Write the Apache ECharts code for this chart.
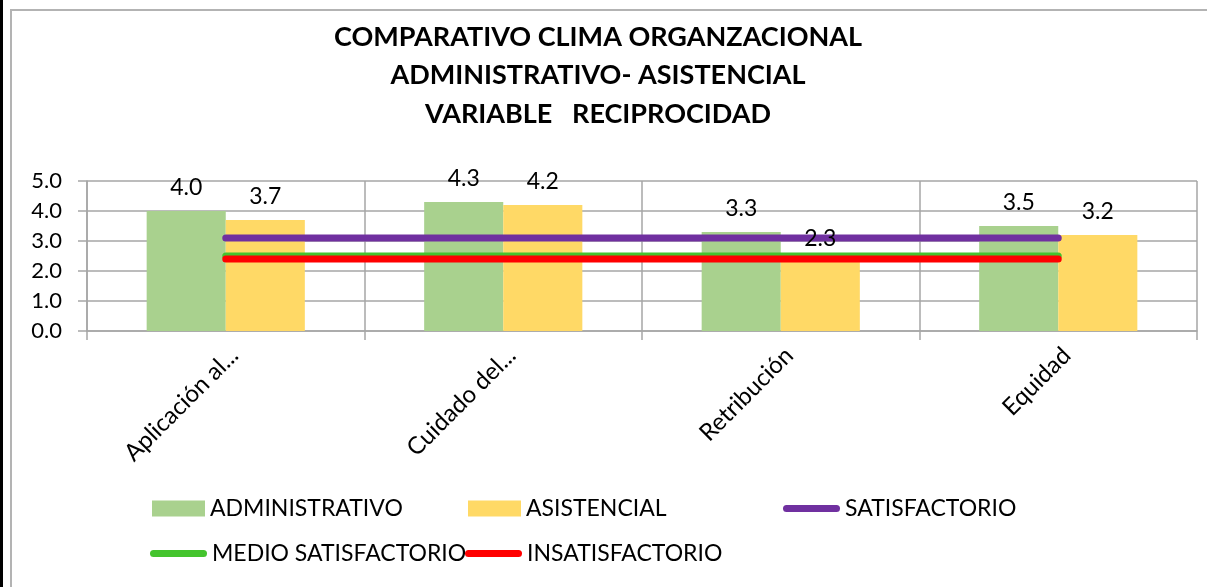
<!DOCTYPE html>
<html>
<head>
<meta charset="utf-8">
<script src="https://cdn.jsdelivr.net/npm/echarts@6/dist/echarts.min.js"></script>
<style>
  html, body { margin: 0; padding: 0; background: #fff; }
  #chart { width: 1207px; height: 587px; }
</style>
</head>
<body>
<div id="chart"></div>
<script>
// datos
const categorias = ['Aplicación al...', 'Cuidado del...', 'Retribución', 'Equidad'];
const administrativo = [4.0, 4.3, 3.3, 3.5];
const asistencial = [3.7, 4.2, 2.3, 3.2];
const satisfactorio = [3.1, 3.1, 3.1, 3.1];
const medioSatisfactorio = [2.5, 2.5, 2.5, 2.5];
const insatisfactorio = [2.4, 2.4, 2.4, 2.4];
const yMin = 0, yMax = 5, yPaso = 1;

const fuente = 'Lato';
const gris = '#a6a6a6';

const myChart = echarts.init(document.getElementById('chart'));

function leyenda(nombre, left, top, w, h, icon) {
  return {
    data: [nombre],
    left: left,
    top: top,
    padding: 0,
    itemWidth: w,
    itemHeight: h,
    icon: icon,
    selectedMode: false,
    itemStyle: { borderWidth: 0 },
    textStyle: { fontFamily: fuente, fontSize: 23, color: '#000' }
  };
}
const capsula = 'path://M3.5,0 L53.5,0 A3.5,3.5 0 0 1 53.5,7 L3.5,7 A3.5,3.5 0 0 1 3.5,0 Z';

const etiqueta = {
  show: true,
  position: 'top',
  distance: 12,
  fontFamily: fuente,
  fontSize: 23,
  color: '#000',
  formatter: p => p.value.toFixed(1)
};

myChart.setOption({
  animation: false,
  title: {
    text: 'COMPARATIVO CLIMA ORGANZACIONAL\nADMINISTRATIVO- ASISTENCIAL\nVARIABLE   RECIPROCIDAD',
    left: 593,
    top: 13,
    textAlign: 'center',
    textStyle: { fontFamily: fuente, fontSize: 27, fontWeight: 'bold', color: '#000', lineHeight: 38.5 }
  },
  graphic: [
    { type: 'rect', shape: { x: 11, y: 10, width: 1230, height: 620 }, style: { fill: null, stroke: '#b3b3b3', lineWidth: 2 }, silent: true },
    { type: 'line', shape: { x1: 1.5, y1: 0, x2: 1.5, y2: 587 }, style: { stroke: '#000', lineWidth: 3 }, silent: true }
  ],
  legend: [
    leyenda('ADMINISTRATIVO', 152, 497, 53, 16, 'rect'),
    leyenda('ASISTENCIAL', 468, 497, 53, 16, 'rect'),
    leyenda('SATISFACTORIO', 783, 497, 57, 7, capsula),
    leyenda('MEDIO SATISFACTORIO', 150, 542, 57, 7, capsula),
    leyenda('INSATISFACTORIO', 465, 542, 57, 7, capsula)
  ],
  grid: { left: 87, right: 10, top: 181, bottom: 256, containLabel: false },
  xAxis: [
    {
      type: 'category',
      data: categorias,
      axisLine: { show: true, lineStyle: { color: gris, width: 1.5 } },
      axisTick: { show: true, length: 9, lineStyle: { color: gris, width: 1.5 } },
      splitLine: { show: true, lineStyle: { color: gris, width: 1.5 } },
      axisLabel: { rotate: 45, margin: 12, verticalAlign: 'top', fontFamily: fuente, fontSize: 24, color: '#000', interval: 0 }
    },
    { type: 'category', data: categorias, show: false }
  ],
  yAxis: [
    {
      type: 'value',
      min: yMin,
      max: yMax,
      interval: yPaso,
      axisLine: { show: true, lineStyle: { color: gris, width: 1.5 } },
      axisTick: { show: true, length: 9, lineStyle: { color: gris, width: 1.5 } },
      splitLine: { show: true, lineStyle: { color: gris, width: 1.5 } },
      axisLabel: { margin: 25, fontFamily: fuente, fontSize: 22, color: '#000', formatter: v => v.toFixed(1) }
    },
    { type: 'value', min: yMin, max: yMax, interval: yPaso, show: false }
  ],
  series: [
    {
      name: 'ADMINISTRATIVO', type: 'bar', data: administrativo,
      barGap: '0%', barCategoryGap: '43%',
      itemStyle: { color: '#a9d18e' }
    },
    {
      name: 'ASISTENCIAL', type: 'bar', data: asistencial,
      barGap: '0%', barCategoryGap: '43%',
      itemStyle: { color: '#ffd966' }
    },
    {
      name: 'SATISFACTORIO', type: 'line', data: satisfactorio, symbol: 'none',
      itemStyle: { color: '#7030a0' },
      lineStyle: { color: '#7030a0', width: 7, cap: 'round' }
    },
    {
      name: 'MEDIO SATISFACTORIO', type: 'line', data: medioSatisfactorio, symbol: 'none',
      itemStyle: { color: '#44c42e' },
      lineStyle: { color: '#44c42e', width: 7, cap: 'round' }
    },
    {
      name: 'INSATISFACTORIO', type: 'line', data: insatisfactorio, symbol: 'none',
      itemStyle: { color: '#ff0000' },
      lineStyle: { color: '#ff0000', width: 7, cap: 'round' }
    },
    // etiquetas encima de las lineas
    {
      name: 'etq-adm', type: 'bar', xAxisIndex: 1, yAxisIndex: 1, data: administrativo,
      barGap: '0%', barCategoryGap: '43%', z: 10, silent: true,
      itemStyle: { color: 'rgba(0,0,0,0)' }, label: etiqueta
    },
    {
      name: 'etq-asi', type: 'bar', xAxisIndex: 1, yAxisIndex: 1, data: asistencial,
      barGap: '0%', barCategoryGap: '43%', z: 10, silent: true,
      itemStyle: { color: 'rgba(0,0,0,0)' }, label: etiqueta
    }
  ]
});
window.addEventListener('resize', function () {
  myChart.resize();
});
</script>
</body>
</html>
